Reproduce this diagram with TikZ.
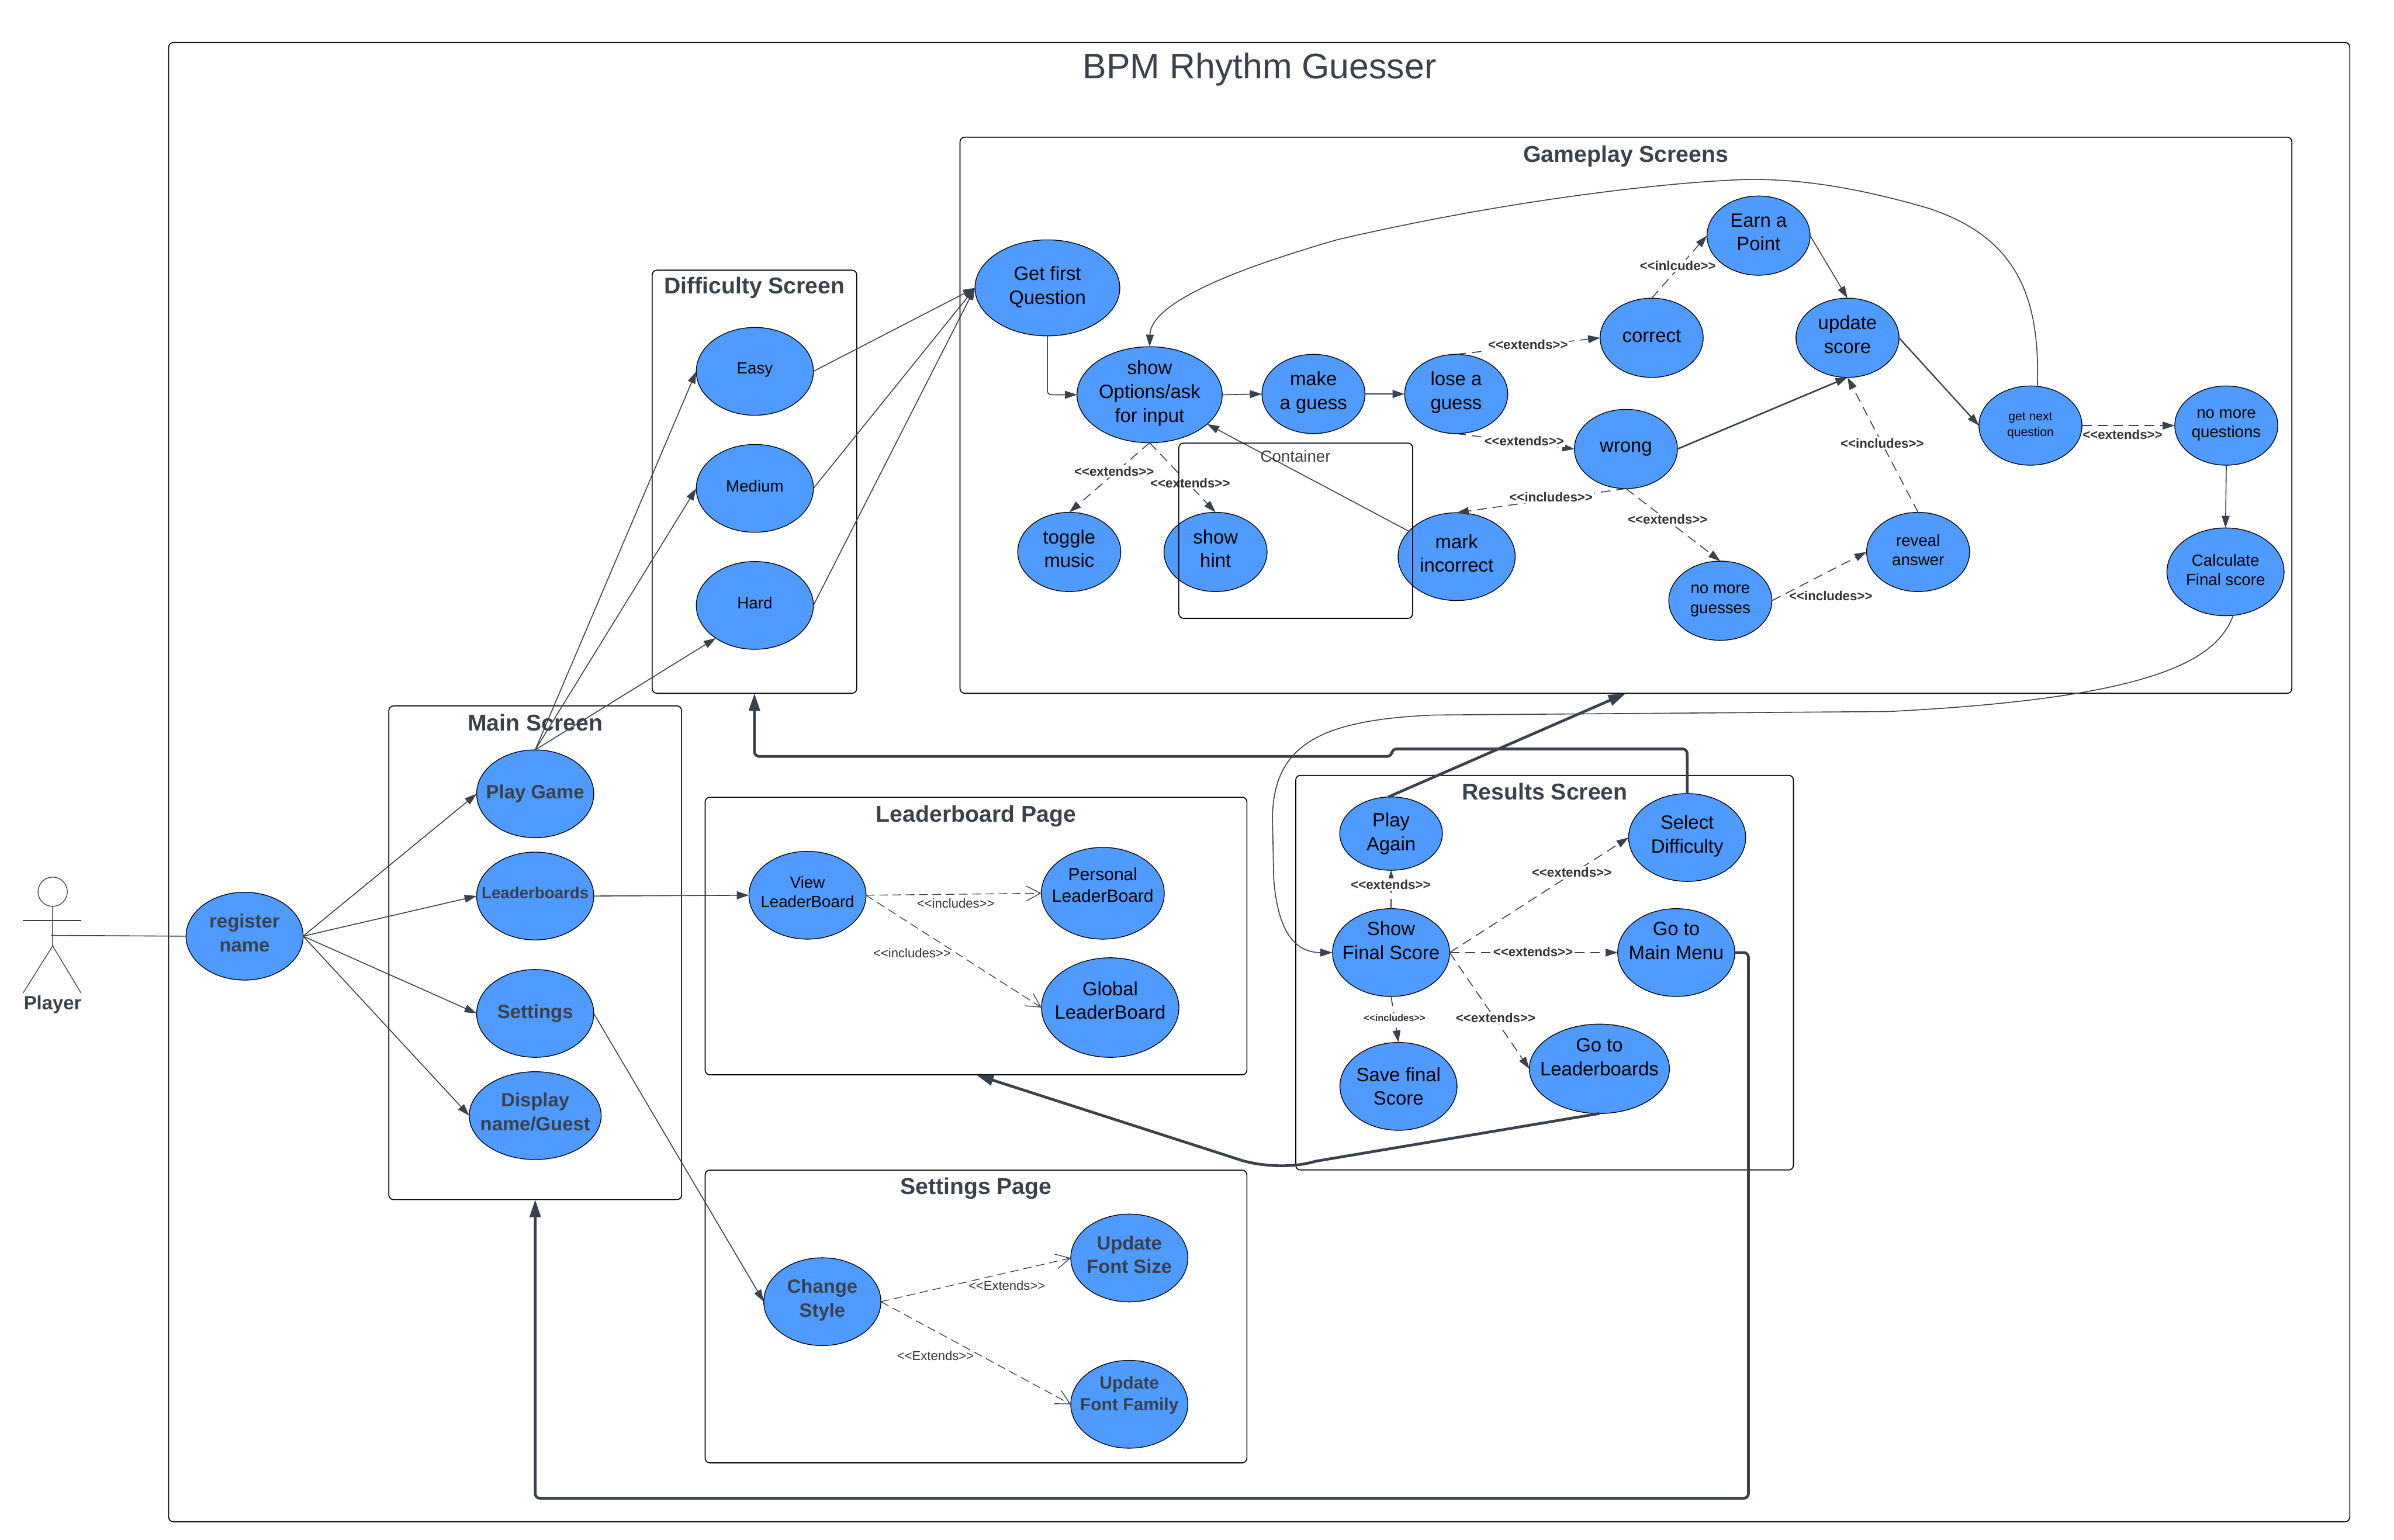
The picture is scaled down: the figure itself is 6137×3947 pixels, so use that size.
\documentclass[tikz,border=0pt]{standalone}
\usepackage{xcolor}
\usepackage{fontspec}
\setmainfont{Liberation Sans}
\usetikzlibrary{arrows.meta,shapes.geometric}
\definecolor{qblue}{HTML}{4F9BFF}
\definecolor{qslate}{HTML}{3A414A}
% pushes the lines of a use case up a little
\newcommand{\lift}[1]{\\[\the\dimexpr#1-\baselineskip\relax]~}
\tikzset{
    frame/.style={draw=black, line width=.025cm, rounded corners=.12cm, inner sep=0pt, outer sep=0pt},
    frametitle/.style={font=\fontsize{16.7}{20}\selectfont\bfseries, text=qslate, inner sep=0pt},
    usecase/.style={ellipse, draw=black, fill=qblue, line width=.02cm, minimum width=3cm, minimum height=2.25cm,
        inner sep=-60pt, outer sep=0pt, align=center, text=black, font=\fontsize{14}{17.4}\selectfont},
    smallcase/.style={usecase, minimum width=2.64cm, minimum height=2.03cm},
    lowfont/.style={font=\fontsize{11.8}{14.2}\selectfont},
    boldcase/.style={usecase, text=qslate, font=\fontsize{14}{17.4}\selectfont\bfseries},
    assoc/.style={draw=qslate, line width=.024cm, -{Triangle[length=.31cm,width=.2cm]}},
    plainline/.style={draw=qslate, line width=.024cm},
    dep/.style={assoc, dash pattern=on .25cm off .15cm},
    opendep/.style={draw=qslate, line width=.02cm, dash pattern=on .22cm off .12cm, -{Straight Barb[length=.36cm,width=.38cm]}},
    heavy/.style={draw=qslate, line width=.07cm, rounded corners=.12cm, -{Triangle[length=.45cm,width=.28cm]}},
    rellabel/.style={fill=white, inner sep=1pt, text=black!80, font=\fontsize{9.5}{11}\selectfont\bfseries},
    planlabel/.style={inner sep=0pt, text=black!80, font=\fontsize{9.4}{11}\selectfont},
}
\begin{document}
\begin{tikzpicture}[x=0.01cm,y=-0.01cm]
    \useasboundingbox (0,0) rectangle (6137,3947);

    % Frames
    \node[frame, minimum width=55.88cm, minimum height=37.90cm] (outer) at (3228,2005) {};
    \node[frame, minimum width=34.12cm, minimum height=14.25cm] (gameplay) at (4168,1064.5) {};
    \node[frame, minimum width=5.24cm, minimum height=10.84cm] (difficulty) at (1934,1235) {};
    \node[frame, minimum width=7.5cm, minimum height=12.65cm] (mainscreen) at (1372,2442.5) {};
    \node[frame, minimum width=13.88cm, minimum height=7.11cm] (leaderpage) at (2502,2399.5) {};
    \node[frame, minimum width=13.88cm, minimum height=7.5cm] (settingspage) at (2502,3375) {};
    \node[frame, minimum width=12.75cm, minimum height=10.11cm] (results) at (3959.5,2493.5) {};

    % Titles
    \node[inner sep=0pt, text=qslate, font=\fontsize{25.9}{30}\selectfont] (tMain) at (3229,178) {BPM Rhythm Guesser};
    \node[frametitle] (tGameplay) at (4168,401) {Gameplay Screens};
    \node[frametitle] (tDifficulty) at (1934,738) {Difficulty Screen};
    \node[frametitle] (tMainscreen) at (1372,1853) {Main Screen};
    \node[frametitle] (tResults) at (3960,2030) {Results Screen};
    \node[frametitle] (tLeader) at (2502,2092) {Leaderboard Page};
    \node[frametitle] (tSettings) at (2502,3047) {Settings Page};

    % Player
    \node[circle, draw=qslate, line width=.02cm, minimum size=.75cm, inner sep=0pt, outer sep=0pt] (playerhead) at (135,2286) {};
    \coordinate (armL) at (59,2360);
    \coordinate (armR) at (208,2360);
    \coordinate (hip) at (135,2425);
    \coordinate (legL) at (59,2546);
    \coordinate (legR) at (208,2546);
    \coordinate (playerhand) at (131,2398);
    \draw[plainline, line width=.02cm] (playerhead.south) -- (hip) -- (legL);
    \draw[plainline, line width=.02cm] (hip) -- (legR);
    \draw[plainline, line width=.02cm] (armL) -- (armR);
    \node[inner sep=0pt, text=qslate, font=\fontsize{14}{17}\selectfont\bfseries] (tPlayer) at (135,2576) {Player};

    % Main screen
    \node[boldcase] (register) at (627,2400) {register\\name\lift{5pt}};
    \node[boldcase] (playgame) at (1372,2035) {Play Game};
    \node[boldcase, font=\fontsize{11.8}{14}\selectfont\bfseries] (leaderboards) at (1372,2297) {Leaderboards\lift{5pt}};
    \node[boldcase] (settings) at (1372,2598) {Settings};
    \node[boldcase, minimum width=3.38cm] (display) at (1372,2860) {Display\\name/Guest\lift{6pt}};

    % Difficulty screen
    \node[usecase, lowfont] (easy) at (1935,952) {Easy\lift{4.5pt}};
    \node[usecase, lowfont] (medium) at (1935,1252) {Medium\lift{3.5pt}};
    \node[usecase, lowfont] (hard) at (1935,1552) {Hard\lift{3.5pt}};

    % Gameplay screens
    \node[usecase, minimum width=3.71cm, minimum height=2.46cm] (firstq) at (2685,738) {Get first\\Question\lift{3.5pt}};
    \node[usecase, minimum width=3.72cm, minimum height=2.46cm] (showopts) at (2947,1012) {show\\Options/ask\\for input\lift{5pt}};
    \node[smallcase] (guess) at (3367,1010) {make\\a guess\lift{5pt}};
    \node[smallcase] (lose) at (3733,1010) {lose a\\guess\lift{5pt}};
    \node[smallcase] (toggle) at (2741,1415) {toggle\\music\lift{5pt}};
    \node[smallcase] (hint) at (3116,1415) {show\\hint\lift{5pt}};
    \node[usecase] (mark) at (3734,1427) {mark\\incorrect\lift{5pt}};
    \node[smallcase] (earn) at (4508,604) {Earn a\\Point\lift{5pt}};
    \node[smallcase] (correct) at (4234,866) {correct\lift{3pt}};
    \node[smallcase] (update) at (4736,866) {update\\score\lift{5pt}};
    \node[smallcase] (wrong) at (4168,1151) {wrong};
    \node[smallcase, font=\fontsize{9}{11.6}\selectfont] (getnext) at (5205,1091) {get next\\question};
    \node[smallcase, lowfont] (nomoreq) at (5707,1091) {no more\\questions\lift{3pt}};
    \node[usecase, lowfont] (calc) at (5705,1466) {Calculate\\Final score\lift{3pt}};
    \node[smallcase, lowfont] (reveal) at (4917,1415) {reveal\\answer\lift{3pt}};
    \node[smallcase, lowfont] (nomoreg) at (4410,1540) {no more\\guesses};

    % Results screen
    \node[usecase, minimum width=2.63cm, minimum height=1.88cm] (again) at (3566,2137) {Play\\Again};
    \node[usecase] (selectd) at (4325,2147) {Select\\Difficulty\lift{5pt}};
    \node[usecase] (showfinal) at (3566,2442) {Show\\Final Score\\~};
    \node[usecase] (mainmenu) at (4297,2442) {Go to\\Main Menu\\~};
    \node[usecase] (savefinal) at (3585,2785) {Save final\\Score};
    \node[usecase, minimum width=3.59cm, minimum height=2.29cm] (goleader) at (4100,2740) {Go to\\Leaderboards\\~};

    % Leaderboard page
    \node[usecase, lowfont] (viewlb) at (2070,2295) {View\\LeaderBoard\lift{5pt}};
    \node[usecase, minimum width=3.15cm, minimum height=2.35cm, font=\fontsize{12.8}{15.8}\selectfont] (personal) at (2827,2290) {Personal\\LeaderBoard\lift{12.4pt}};
    \node[usecase, minimum width=3.52cm, minimum height=2.55cm] (global) at (2846,2583) {Global\\LeaderBoard\lift{10.6pt}};

    % Settings page
    \node[boldcase] (style) at (2108,3337) {Change\\Style\lift{5pt}};
    \node[boldcase] (fontsize) at (2895,3225) {Update\\Font Size\lift{5pt}};
    \node[boldcase, font=\fontsize{12.8}{15.6}\selectfont\bfseries] (fontfam) at (2895,3600) {Update\\Font Family\lift{15.7pt}};

    % Connectors from the player
    \draw[plainline] (playerhand) -- (register.west);
    \draw[assoc] (register.east) -- (playgame.west);
    \draw[assoc] (register.east) -- (leaderboards.west);
    \draw[assoc] (register.east) -- (settings.west);
    \draw[assoc] (register.east) -- (display.west);
    \draw[assoc] (playgame.north) -- (easy.west);
    \draw[assoc] (playgame.north) -- (medium.west);
    \draw[assoc] (playgame.north) -- (hard.220);
    \draw[assoc] (easy.east) -- (firstq.west);
    \draw[assoc] (medium.east) -- (firstq.west);
    \draw[assoc] (hard.east) -- (firstq.west);
    \draw[assoc] (leaderboards.east) -- (viewlb.west);
    \draw[assoc] (settings.east) -- (style.west);

    % Gameplay flow
    \draw[assoc, rounded corners=.1cm] (firstq.south) |- (showopts.west);
    \draw[assoc] (showopts.east) -- (guess.west);
    \draw[assoc] (guess.east) -- (lose.west);
    \draw[assoc] (earn.east) -- (update.north);
    \draw[assoc, line width=.04cm] (wrong.east) -- (update.south);
    \draw[assoc, line width=.035cm] (update.east) -- (getnext.west);
    \draw[assoc] (nomoreq.south) -- (calc.north);
    \draw[assoc] (mark.152) -- (showopts.333);
    \draw[assoc] (getnext.80) .. controls (5230,760) and (5170,610) .. (4947,535)
        .. controls (4760,480) and (4600,455) .. (4455,461)
        .. controls (4300,467) and (3900,505) .. (3430,614)
        .. controls (3200,680) and (2950,770) .. (showopts.north);
    \draw[assoc] (calc.280) .. controls (5680,1700) and (5500,1790) .. (4844,1824) -- (3678,1833)
        .. controls (3400,1845) and (3262,1900) .. (3262,2100) -- (3265,2250)
        .. controls (3275,2390) and (3320,2442) .. (showfinal.west);

    % Dashed relations
    \draw[dep] (lose.north) -- (correct.west);
    \draw[dep] (lose.south) -- (wrong.west);
    \draw[dep] (correct.north) -- (earn.west);
    \draw[dep] (reveal.north) -- (update.south);
    \draw[dep] (nomoreg.east) -- (reveal.west);
    \draw[dep] (wrong.south) -- (nomoreg.north);
    \draw[dep] (wrong.south) -- (mark.north);
    \draw[dep] (showopts.south) -- (toggle.north);
    \draw[dep] (showopts.south) -- (hint.north);
    \draw[dep] (getnext.east) -- (nomoreq.west);
    \draw[dep] (showfinal.north) -- (again.south);
    \draw[dep] (showfinal.east) -- (selectd.west);
    \draw[dep] (showfinal.east) -- (mainmenu.west);
    \draw[dep] (showfinal.east) -- (goleader.west);
    \draw[dep] (showfinal.south) -- (savefinal.north);
    \draw[opendep] (viewlb.east) -- (personal.west);
    \draw[opendep] (viewlb.east) -- (global.west);
    \draw[opendep] (style.east) -- (fontsize.west);
    \draw[opendep] (style.east) -- (fontfam.west);

    % Heavy links between screens
    \draw[heavy] (again.north) ++(-7,0) -- (gameplay.south);
    \draw[heavy] (selectd.north) |- (3568,1920) -- (3568,1939) -| (difficulty.south);
    \draw[heavy] (mainmenu.east) -| (4482,3841) -| (mainscreen.south);
    \draw[heavy, rounded corners=0pt] (goleader.south) -- (3372,2977)
        .. controls (3330,2990) and (3260,2995) .. (3187,2976) -- (leaderpage.south);

    % Relation labels
    \node[rellabel] (lbCorrect) at (3917,884) {<{}<extends>{}>};
    \node[rellabel] (lbWrong) at (3907,1130) {<{}<extends>{}>};
    \node[rellabel] (lbEarn) at (4301,681) {<{}<inlcude>{}>};
    \node[rellabel] (lbReveal) at (4825,1137) {<{}<includes>{}>};
    \node[rellabel, fill=none] (lbNoGuess) at (4693,1527) {<{}<includes>{}>};
    \node[rellabel] (lbNoMore) at (4275,1331) {<{}<extends>{}>};
    \node[rellabel] (lbMark) at (3976,1274) {<{}<includes>{}>};
    \node[rellabel] (lbToggle) at (2856,1209) {<{}<extends>{}>};
    \node[rellabel] (lbHint) at (3051,1238) {<{}<extends>{}>};
    \node[rellabel, fill=none] (lbNext) at (5441,1114) {<{}<extends>{}>};
    \node[rellabel] (lbAgain) at (3565,2268) {<{}<extends>{}>};
    \node[rellabel] (lbSelect) at (4029,2236) {<{}<extends>{}>};
    \node[rellabel] (lbMenu) at (3930,2440) {<{}<extends>{}>};
    \node[rellabel] (lbGoLeader) at (3834,2610) {<{}<extends>{}>};
    \node[rellabel, font=\fontsize{7}{9}\selectfont\bfseries] (lbSave) at (3575,2610) {<{}<includes>{}>};
    \node[planlabel] (lbPersonal) at (2450,2315) {<{}<includes>{}>};
    \node[planlabel] (lbGlobal) at (2338,2443) {<{}<includes>{}>};
    \node[planlabel] (lbSize) at (2581,3296) {<{}<Extends>{}>};
    \node[planlabel] (lbFamily) at (2398,3475) {<{}<Extends>{}>};

    % Container on top
    \node[frame, minimum width=5.99cm, minimum height=4.49cm] (container) at (3321.5,1360.5) {};
    \node[inner sep=0pt, text=qslate, font=\fontsize{11.8}{14}\selectfont] (tContainer) at (3321,1170) {Container};
\end{tikzpicture}
\end{document}
